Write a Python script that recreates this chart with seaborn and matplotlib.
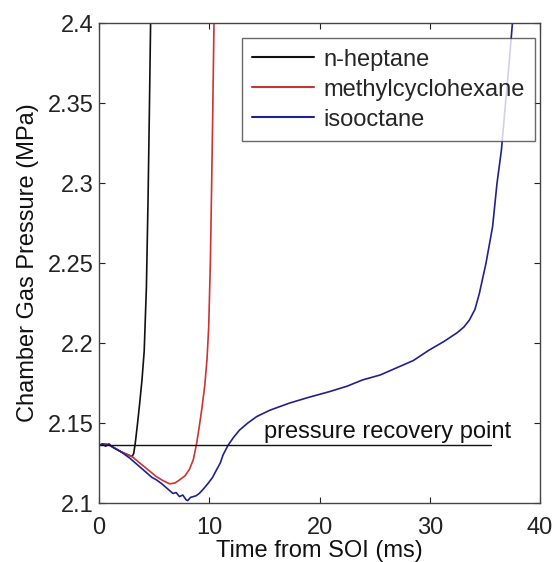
import numpy as np
import pandas as pd
import seaborn as sns
import matplotlib
matplotlib.use("Agg")
import matplotlib.pyplot as plt
from matplotlib.lines import Line2D

# ---- data ----
heptane_t = [0, 0.5, 1.0, 1.5, 2.0, 2.5, 3.0, 3.15, 3.3, 3.5, 3.7, 3.9, 4.1, 4.3, 4.45, 4.58, 4.68]
heptane_p = [2.136, 2.137, 2.136, 2.134, 2.132, 2.1305, 2.129, 2.131, 2.138, 2.150, 2.163, 2.177,
             2.195, 2.235, 2.29, 2.35, 2.40]

mch_t = [0, 0.5, 1.0, 1.5, 2.0, 2.5, 3.0, 3.7, 4.5, 5.2, 5.8, 6.4, 6.9, 7.3, 7.8, 8.2, 8.55, 8.85,
         9.1, 9.35, 9.6, 9.8, 9.95, 10.1, 10.22, 10.33, 10.43]
mch_p = [2.136, 2.137, 2.136, 2.134, 2.132, 2.1305, 2.129, 2.125, 2.1205, 2.1165, 2.114, 2.112,
         2.1125, 2.1144, 2.117, 2.121, 2.127, 2.137, 2.148, 2.160, 2.174, 2.19, 2.21, 2.25,
         2.30, 2.35, 2.40]

iso_t = [0, 0.3, 0.6, 0.9, 1.2, 1.6, 2.0, 2.4, 2.8, 3.3, 3.8, 4.3, 4.8, 5.2, 5.7, 6.2, 6.7, 7.0,
         7.3, 7.6, 7.9, 8.05, 8.3, 8.55, 8.8, 9.1, 9.5, 9.9, 10.3, 10.65, 11.0, 11.25, 11.7, 12.2,
         12.75, 13.5, 14.3, 15.5, 17.3, 19.0, 20.9, 22.5, 23.9, 25.5, 26.9, 28.5, 29.95, 31.3,
         32.5, 33.1, 33.6, 34.1, 34.5, 35.1, 35.7, 36.1, 36.5, 36.9, 37.2, 37.5]
iso_p = [2.136, 2.137, 2.1355, 2.137, 2.135, 2.1335, 2.132, 2.130, 2.128, 2.125, 2.122, 2.119,
         2.116, 2.1145, 2.112, 2.109, 2.106, 2.1065, 2.104, 2.105, 2.102, 2.1015, 2.1035, 2.104,
         2.1045, 2.106, 2.109, 2.1123, 2.116, 2.1206, 2.125, 2.130, 2.136, 2.141, 2.1456, 2.150,
         2.154, 2.158, 2.1625, 2.166, 2.1696, 2.173, 2.1769, 2.180, 2.1842, 2.189, 2.1956, 2.201,
         2.2065, 2.210, 2.2144, 2.221, 2.231, 2.2498, 2.2727, 2.2998, 2.3206, 2.352, 2.375, 2.40]

fuels = ["n-heptane", "methylcyclohexane", "isooctane"]
colors = ["#111111", "#cc3333", "#20208f"]

recovery_t = [0, 35.6]
recovery_p = [2.136, 2.136]

x_ticks = [0, 10, 20, 30, 40]
y_ticks = [2.1, 2.15, 2.2, 2.25, 2.3, 2.35, 2.4]
y_tick_labels = ["2.1", "2.15", "2.2", "2.25", "2.3", "2.35", "2.4"]

df = pd.concat([
    pd.DataFrame({"t": heptane_t, "p": heptane_p, "fuel": fuels[0]}),
    pd.DataFrame({"t": mch_t, "p": mch_p, "fuel": fuels[1]}),
    pd.DataFrame({"t": iso_t, "p": iso_p, "fuel": fuels[2]}),
], ignore_index=True)

sns.set_style("ticks")
plt.rcParams["font.family"] = ["Liberation Sans", "DejaVu Sans"]
FS = 17

fig = plt.figure(figsize=(5.58, 5.62), dpi=100)
ax = fig.add_axes([99 / 558, 1 - 503 / 562, 441 / 558, 480 / 562])

sns.lineplot(data=df, x="t", y="p", hue="fuel", hue_order=fuels, palette=colors,
             sort=False, estimator=None, linewidth=1.2, legend=False, ax=ax)
sns.lineplot(x=recovery_t, y=recovery_p, color="#111111", linewidth=1.0, ax=ax)

ax.text(15.0, 2.1375, "pressure recovery point", fontsize=FS, color="#111111",
        ha="left", va="bottom")

ax.set_xlim(0, 40)
ax.set_ylim(2.1, 2.4)
ax.set_xticks(x_ticks)
ax.set_xticklabels([str(v) for v in x_ticks])
ax.set_yticks(y_ticks)
ax.set_yticklabels(y_tick_labels)
ax.tick_params(direction="in", length=4, width=0.8, top=True, right=True,
               labelsize=FS, colors="#222222", pad=4)
ax.tick_params(axis="x", pad=10)
for s in ax.spines.values():
    s.set_color("#444444")
    s.set_linewidth(1.0)

ax.set_xlabel("Time from SOI (ms)", fontsize=FS, labelpad=1, color="#111111")
ax.set_ylabel("Chamber Gas Pressure (MPa)", fontsize=FS, labelpad=6, color="#111111")

handles = [Line2D([0], [0], color=c, linewidth=1.5) for c in colors]
leg = ax.legend(handles, fuels, loc="upper right", bbox_to_anchor=(0.989, 0.969),
                borderaxespad=0, fontsize=FS, frameon=True, fancybox=False,
                handlelength=2.6, handletextpad=0.4, labelspacing=0.34,
                borderpad=0.45)
leg.get_frame().set_edgecolor("#444444")
leg.get_frame().set_linewidth(1.0)

fig.savefig("out.png", dpi=100)
